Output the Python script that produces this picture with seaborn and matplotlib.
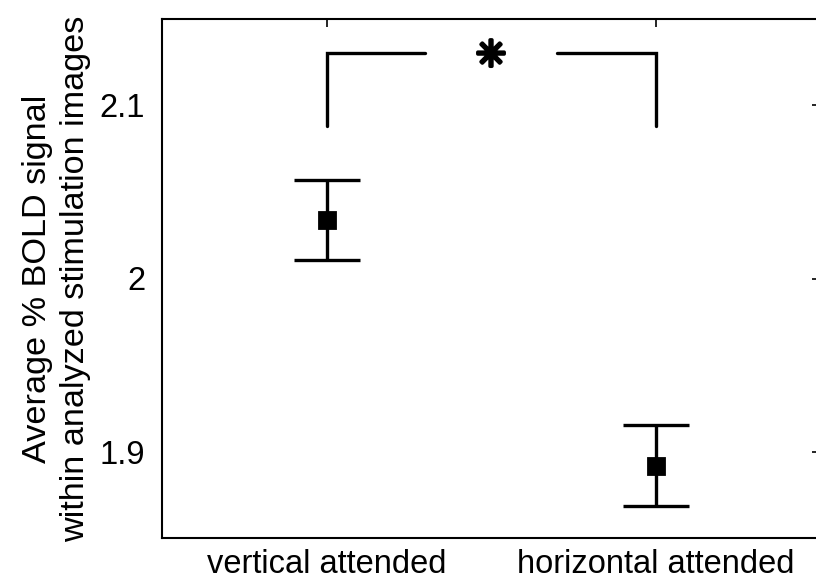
import numpy as np
import pandas as pd
import matplotlib
matplotlib.use("Agg")
import matplotlib.pyplot as plt
import matplotlib.patheffects as pe
import seaborn as sns

conditions = ["vertical attended", "horizontal attended"]
mean_bold = [2.0336, 1.8919]
err_low = [0.0231, 0.0236]
err_high = [0.0231, 0.0236]
y_ticks = [1.9, 2.0, 2.1]
y_tick_labels = ["1.9", "2", "2.1"]
bracket_y = 2.1305
bracket_leg_bottom = 2.088

sns.set_theme(style="white")
plt.rcParams["font.family"] = ["Liberation Sans", "DejaVu Sans"]
plt.rcParams["text.color"] = "black"
plt.rcParams["axes.labelcolor"] = "black"

df = pd.DataFrame({"condition": conditions, "bold": mean_bold})

fig = plt.figure(figsize=(8.16, 5.84), dpi=100)
ax = fig.add_axes([162 / 816, 46 / 584, (820 - 162) / 816, (538 - 19) / 584])

sns.pointplot(data=df, x="condition", y="bold", order=conditions,
              linestyle="none", marker="s", markersize=11, color="black",
              errorbar=None, ax=ax, zorder=3)
xpos = np.arange(len(conditions))
ax.errorbar(xpos, mean_bold, yerr=[err_low, err_high], fmt="none",
            ecolor="black", elinewidth=2.4, capsize=24, capthick=2.4, zorder=2)

# significance bracket between the two conditions
lw = 2.4
ax.plot([0, 0, 0.3], [bracket_leg_bottom, bracket_y, bracket_y],
        color="black", lw=lw, solid_joinstyle="miter")
ax.plot([0.7, 1, 1], [bracket_y, bracket_y, bracket_leg_bottom],
        color="black", lw=lw, solid_joinstyle="miter")
ax.text(0.5, bracket_y, "\u2733", ha="center", va="center_baseline",
        fontsize=26, fontweight="bold", color="black", family="DejaVu Sans",
        path_effects=[pe.withStroke(linewidth=2.6, foreground="black")])

ax.set_xlim(-0.5, 1.5)
ax.set_ylim(1.85, 2.15)
ax.set_yticks(y_ticks)
ax.set_yticklabels(y_tick_labels)
ax.set_xlabel("")
ax.set_ylabel("Average % BOLD signal\nwithin analyzed stimulation images",
              fontsize=24.7, linespacing=1.3, color="black")
ax.yaxis.set_label_coords(-0.108, 0.5)

ax.tick_params(axis="both", direction="in", length=6, width=1.2,
               top=True, right=True, labelsize=23.5, colors="black")
ax.tick_params(axis="y", pad=12)
ax.tick_params(axis="x", pad=8)
for s in ax.spines.values():
    s.set_linewidth(1.5)
    s.set_color("black")
    s.set_visible(True)

fig.savefig("out.png", dpi=100)
